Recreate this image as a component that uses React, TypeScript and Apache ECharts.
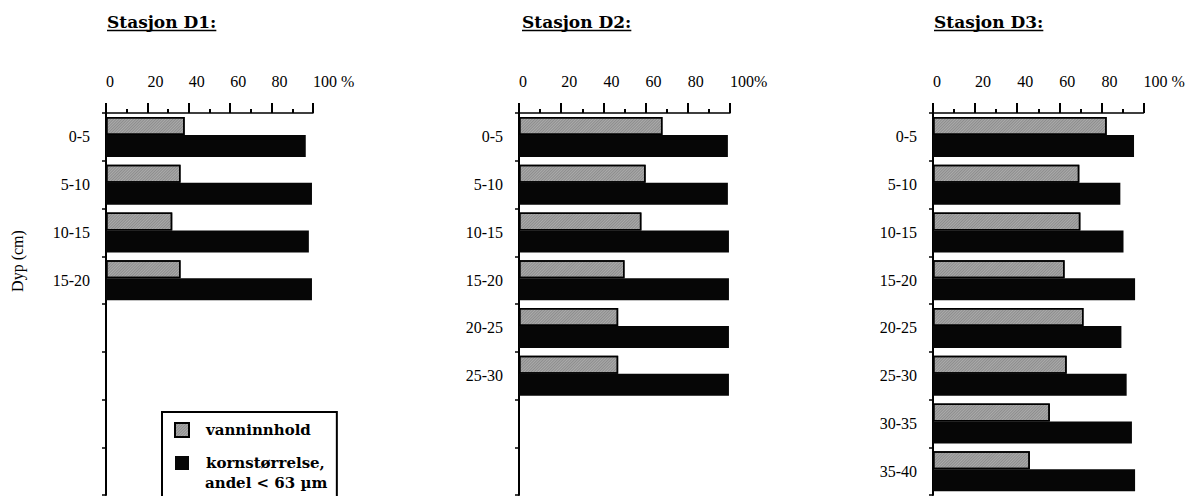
import React, { useEffect, useRef } from "react";
import * as echarts from "echarts";

// ---- data ----
const depths = ["0-5", "5-10", "10-15", "15-20", "20-25", "25-30", "30-35", "35-40"];
const stationTitles = ["Stasjon D1:", "Stasjon D2:", "Stasjon D3:"];
const tickLabelsD1 = ["0", "20", "40", "60", "80", "100 %"];
const tickLabelsD2 = ["0", "20", "40", "60", "80", "100%"];
const tickLabelsD3 = ["0", "20", "40", "60", "80", "100 %"];
const seriesNames = ["vanninnhold", "kornstørrelse,\nandel < 63 µm"];
const yAxisName = "Dyp (cm)";

const d1Vann = [38, 36, 32, 36];
const d1Korn = [96.5, 99.5, 98, 99.5];
const d2Vann = [68, 60, 58, 50, 47, 47];
const d2Korn = [99, 99, 99.5, 99.5, 99.5, 99.5];
const d3Vann = [82.5, 69.5, 70, 62.5, 71.5, 63.5, 55.5, 46];
const d3Korn = [95.5, 89, 90.5, 96, 89.5, 92, 94.5, 96];

// ---- layout ----
const panelLeft = [106, 519, 933];
const panelWidth = [207, 211, 210.5];
const titleLeft = [107, 522, 934];
const gridTop = 113;
const gridHeight = 382;
const legendLeft = 162;
const legendTop = 412;

const serif = "Liberation Serif";
const boldSerif = "DejaVu Serif";

export default function App() {
  const ref = useRef<HTMLDivElement>(null);

  useEffect(() => {
    if (!ref.current) return;
    const chart = echarts.init(ref.current, null, { renderer: "svg" });

    const panels = [
      { ticks: tickLabelsD1, vann: d1Vann, korn: d1Korn },
      { ticks: tickLabelsD2, vann: d2Vann, korn: d2Korn },
      { ticks: tickLabelsD3, vann: d3Vann, korn: d3Korn },
    ];

    const titleFontSize = 17;
    const canvas = document.createElement("canvas");
    const ctx = canvas.getContext("2d");
    const measure = (t: string) => {
      if (!ctx) return t.length * 10;
      ctx.font = `bold ${titleFontSize}px "${boldSerif}"`;
      return ctx.measureText(t).width;
    };

    const legendIcon = 14;
    const legendPadL = 12;
    const legendTextPad = 12;
    const legendTextX = legendLeft + legendPadL + legendIcon + 5 + legendTextPad;
    const [firstLine2, secondLine2] = seriesNames[1].split("\n");

    const option: any = {
      animation: false,
      backgroundColor: "#fff",
      textStyle: { fontFamily: serif, color: "#000" },
      title: stationTitles.map((t, i) => ({
        text: t,
        left: titleLeft[i],
        top: 13,
        padding: 0,
        textStyle: {
          fontFamily: boldSerif,
          fontWeight: "bold",
          fontSize: titleFontSize,
          color: "#000",
        },
      })),
      grid: panels.map((_, i) => ({
        left: panelLeft[i],
        top: gridTop,
        width: panelWidth[i],
        height: gridHeight,
        containLabel: false,
      })),
      xAxis: panels.map((p, i) => ({
        type: "value",
        gridIndex: i,
        position: "top",
        min: 0,
        max: 100,
        interval: 20,
        axisLine: { show: true, lineStyle: { color: "#000", width: 1.5 } },
        axisTick: { show: true, length: 10, lineStyle: { color: "#000", width: 2 } },
        minorTick: { show: true, splitNumber: 2, length: 4, lineStyle: { color: "#000", width: 2 } },
        splitLine: { show: false },
        minorSplitLine: { show: false },
        axisLabel: {
          margin: 24,
          align: "left",
          color: "#000",
          fontFamily: serif,
          fontSize: 16,
          formatter: (v: number) => p.ticks[Math.round(v / 20)] ?? "",
        },
      })),
      yAxis: panels.map((p, i) => ({
        type: "category",
        gridIndex: i,
        inverse: true,
        data: depths,
        axisLine: { show: true, lineStyle: { color: "#000", width: 2 } },
        axisTick: { show: true, interval: 0, length: 4, lineStyle: { color: "#000", width: 1.5 } },
        axisLabel: {
          interval: 0,
          margin: 16,
          color: "#000",
          fontFamily: serif,
          fontSize: 16,
          padding: [6, 0, 0, 0],
          formatter: (v: string, idx: number) => (idx < p.vann.length ? v : ""),
        },
        splitLine: { show: false },
      })),
      series: panels.flatMap((p, i) => [
        {
          type: "bar",
          name: seriesNames[0],
          xAxisIndex: i,
          yAxisIndex: i,
          data: p.vann,
          barWidth: 18,
          barGap: "0%",
          itemStyle: {
            color: "#ababab",
            borderColor: "#000",
            borderWidth: 1.5,
            decal: {
              symbol: "rect",
              symbolSize: 1,
              dashArrayX: [[1, 0]],
              dashArrayY: [1, 1],
              rotation: -Math.PI / 4,
              color: "rgba(30,30,30,0.22)",
            },
          },
        },
        {
          type: "bar",
          name: seriesNames[1],
          xAxisIndex: i,
          yAxisIndex: i,
          data: p.korn,
          barWidth: 22,
          barGap: "0%",
          itemStyle: { color: "#060606" },
        },
      ]),
      legend: {
        left: legendLeft,
        top: legendTop,
        height: 300,
        orient: "vertical",
        padding: [8, 12, 40, legendPadL],
        itemGap: 13,
        itemWidth: legendIcon,
        itemHeight: legendIcon,
        borderColor: "#000",
        borderWidth: 2,
        backgroundColor: "#fff",
        icon: "rect",
        selectedMode: false,
        formatter: (name: string) => name.split("\n")[0],
        textStyle: {
          fontFamily: boldSerif,
          fontWeight: "bold",
          fontSize: 15,
          color: "#000",
          lineHeight: 20,
          padding: [0, 0, 0, legendTextPad],
        },
        data: [{ name: seriesNames[0] }, { name: seriesNames[1] }],
      },
      graphic: [
        {
          type: "text",
          x: 17,
          y: 261,
          rotation: Math.PI / 2,
          style: {
            text: yAxisName,
            fontFamily: serif,
            fontSize: 16,
            fill: "#000",
            align: "center",
            verticalAlign: "middle",
          },
        },
        {
          type: "text",
          x: legendTextX,
          y: 483,
          z: 100,
          zlevel: 0,
          style: {
            text: secondLine2 ?? "",
            fontFamily: boldSerif,
            fontWeight: "bold",
            fontSize: 15,
            fill: "#000",
            align: "left",
            verticalAlign: "middle",
          },
        },
        ...stationTitles.map((t, i) => ({
          type: "line",
          shape: { x1: titleLeft[i], y1: 30.5, x2: titleLeft[i] + measure(t), y2: 30.5 },
          style: { stroke: "#000", lineWidth: 1.5 },
        })),
      ],
    };

    chart.setOption(option);
    return () => chart.dispose();
  }, []);

  return (
    <div
      ref={ref}
      style={{ position: "absolute", left: 0, top: 0, width: 1196, height: 496 }}
    />
  );
}
